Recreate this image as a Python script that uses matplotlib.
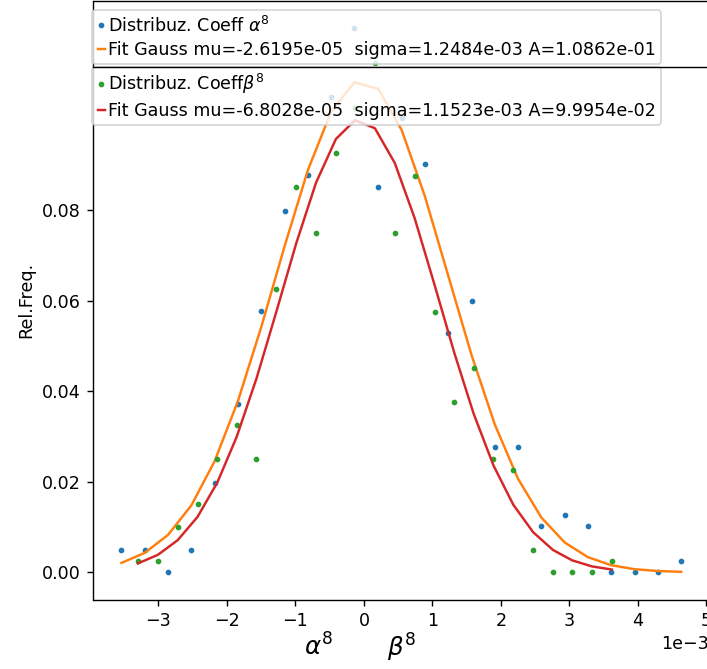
import matplotlib
matplotlib.use("Agg")
import matplotlib.pyplot as plt
import numpy as np

# ---- data (x values in units of 1e-3) ----
x_alpha = [-3.54, -3.20, -2.86, -2.52, -2.18, -1.84, -1.50, -1.16, -0.82, -0.48,
           -0.14, 0.21, 0.55, 0.89, 1.23, 1.57, 1.91, 2.25, 2.59, 2.93,
           3.27, 3.61, 3.95, 4.29, 4.63]
freq_alpha = [0.0049, 0.0049, 0.0000, 0.0049, 0.0197, 0.0372, 0.0576, 0.0798, 0.0877, 0.1050,
              0.1202, 0.0851, 0.1002, 0.0901, 0.0528, 0.0600, 0.0276, 0.0276, 0.0102, 0.0126,
              0.0102, 0.0000, 0.0000, 0.0000, 0.0025]
fit_alpha = [0.00207, 0.00429, 0.00826, 0.01477, 0.02453, 0.03780, 0.05411, 0.07192, 0.08874, 0.10168,
             0.10817, 0.10670, 0.09765, 0.08298, 0.06548, 0.04797, 0.03263, 0.02061, 0.01208, 0.00658,
             0.00333, 0.00156, 0.00068, 0.00028, 0.00010]

x_beta = [-3.30, -3.01, -2.72, -2.43, -2.14, -1.86, -1.57, -1.28, -0.99, -0.70,
          -0.41, -0.13, 0.16, 0.45, 0.74, 1.03, 1.32, 1.60, 1.89, 2.18,
          2.47, 2.76, 3.04, 3.33, 3.62]
freq_beta = [0.0025, 0.0025, 0.0100, 0.0150, 0.0250, 0.0325, 0.0250, 0.0625, 0.0850, 0.0750,
             0.0925, 0.1025, 0.1125, 0.0750, 0.0875, 0.0575, 0.0375, 0.0450, 0.0250, 0.0225,
             0.0050, 0.0000, 0.0000, 0.0000, 0.0025]
fit_beta = [0.00196, 0.00384, 0.00708, 0.01222, 0.01985, 0.02983, 0.04274, 0.05748, 0.07258, 0.08600,
            0.09565, 0.09981, 0.09802, 0.09035, 0.07818, 0.06348, 0.04839, 0.03506, 0.02360, 0.01491,
            0.00884, 0.00492, 0.00263, 0.00129, 0.00060]

label_pts_a = 'Distribuz. Coeff $\\alpha^8$'
label_fit_a = 'Fit Gauss mu=-2.6195e-05  sigma=1.2484e-03 A=1.0862e-01'
label_pts_b = 'Distribuz. Coeff$\\beta^8$'
label_fit_b = 'Fit Gauss mu=-6.8028e-05  sigma=1.1523e-03 A=9.9954e-02'
yticks = [0.00, 0.02, 0.04, 0.06, 0.08]

DPI = 126
fig = plt.figure(figsize=(707 / DPI, 669 / DPI), dpi=DPI)
ax = fig.add_axes([93.5 / 707, 69.5 / 669, 615.6 / 707, 598.9 / 669])

xa = np.array(x_alpha) * 1e-3
xb = np.array(x_beta) * 1e-3

p1, = ax.plot(xa, freq_alpha, '.', color='C0', ms=4.5, label=label_pts_a)
l1, = ax.plot(xa, fit_alpha, '-', color='C1', lw=1.4, label=label_fit_a)
p2, = ax.plot(xb, freq_beta, '.', color='C2', ms=4.5, label=label_pts_b)
l2, = ax.plot(xb, fit_beta, '-', color='C3', lw=1.4, label=label_fit_b)

ax.set_yticks(yticks)
ax.set_ylabel('Rel.Freq.')
ax.ticklabel_format(axis='x', style='sci', scilimits=(0, 0))

leg_kw = dict(loc='upper left', borderaxespad=0, handlelength=0.45,
              handletextpad=0.15, borderpad=0.3, labelspacing=0.3, markerscale=1.0)
leg1 = ax.legend(handles=[p1, l1], bbox_to_anchor=(-0.002, 0.984), **leg_kw)
ax.add_artist(leg1)
leg2 = ax.legend(handles=[p2, l2], bbox_to_anchor=(-0.002, 0.889), **leg_kw)

# dark separating line between the two legend boxes
ax.plot([0, 1], [0.889, 0.889], transform=ax.transAxes, color='black',
        lw=0.8, zorder=6, clip_on=False)

# axis labels below x axis
ax.text(0.365, -0.08, r'$\alpha^8$', transform=ax.transAxes, fontsize=14,
        ha='center', va='center')
ax.text(0.5, -0.08, r'$\beta^8$', transform=ax.transAxes, fontsize=14,
        ha='center', va='center')

fig.savefig('out.png', dpi=DPI)
